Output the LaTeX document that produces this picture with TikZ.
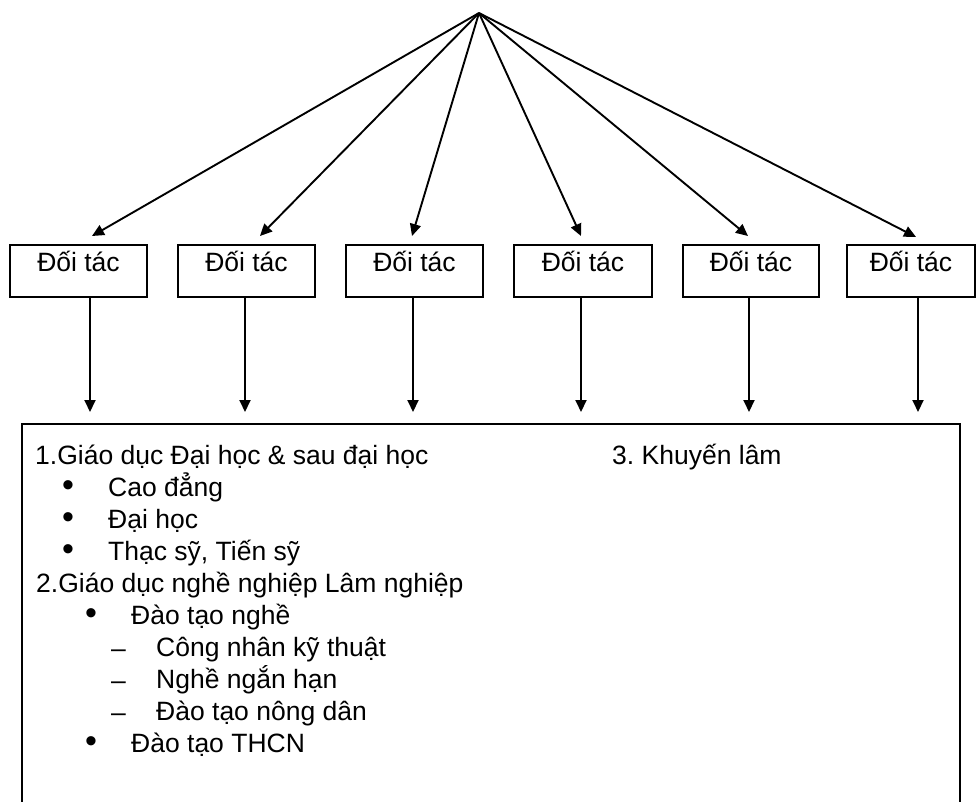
\documentclass[tikz,border=0pt]{standalone}
\usepackage{fontspec}
\setmainfont{Liberation Sans}
\usetikzlibrary{arrows.meta}
\begin{document}
\frenchspacing
\begin{tikzpicture}[x=1pt,y=-1pt,
  every node/.style={font=\fontsize{26.5}{32}\selectfont},
  partner/.style={draw, line width=1.9pt, minimum height=52pt, inner sep=0pt,
    text height=27pt, text depth=25pt, anchor=north},
  arr/.style={line width=1.9pt, -{Triangle[length=12pt,width=11pt]}},
  item/.style={anchor=base west, inner sep=0pt},
  bul/.style={anchor=base, inner sep=0pt, font=\fontsize{34}{34}\selectfont},
  dsh/.style={anchor=base, inner sep=0pt}]
\useasboundingbox (0,0) rectangle (976,801);
\clip (0,0) rectangle (976,801);

% apex
\coordinate (apex) at (479,13);

% partner boxes
\node[partner, minimum width=137pt] (b1) at (78.5,244) {Đối tác};
\node[partner, minimum width=137pt] (b2) at (246.5,244) {Đối tác};
\node[partner, minimum width=137pt] (b3) at (414.5,244) {Đối tác};
\node[partner, minimum width=138pt] (b4) at (583,244) {Đối tác};
\node[partner, minimum width=136pt] (b5) at (751,244) {Đối tác};
\node[partner, minimum width=128pt] (b6) at (911,244) {Đối tác};

% arrow ends above boxes
\coordinate (e1) at (92,236);
\coordinate (e2) at (260,236);
\coordinate (e3) at (412,236);
\coordinate (e4) at (581,236);
\coordinate (e5) at (748,236);
\coordinate (e6) at (916,237);
\foreach \i in {1,...,6} \draw[arr] (apex) -- (e\i);

% main box
\node[draw, line width=1.9pt, anchor=north west, minimum width=938pt,
  minimum height=420pt, inner sep=0pt] (main) at (21,423) {};

% vertical arrows
\coordinate (v1) at (90,412);
\coordinate (v2) at (245,412);
\coordinate (v3) at (413,412);
\coordinate (v4) at (581,412);
\coordinate (v5) at (749,412);
\coordinate (v6) at (918,412);
\foreach \i in {1,...,6} \draw[arr] (b\i.south -| v\i) -- (v\i);

% text in main box
\node[item] (l1) at (35,464) {1.Giáo dục Đại học \& sau đại học};
\node[bul] (m2) at (68,496) {•};
\node[item] (l2) at (108,496) {Cao đẳng};
\node[bul] (m3) at (68,528) {•};
\node[item] (l3) at (108,528) {Đại học};
\node[bul] (m4) at (68,560) {•};
\node[item] (l4) at (108,560) {Thạc sỹ, Tiến sỹ};
\node[item] (l5) at (36,592) {2.Giáo dục nghề nghiệp Lâm nghiệp};
\node[bul] (m6) at (91,624) {•};
\node[item] (l6) at (131,624) {Đào tạo nghề};
\node[dsh] (m7) at (118.5,657) {–};
\node[item] (l7) at (156,656) {Công nhân kỹ thuật};
\node[dsh] (m8) at (118.5,689) {–};
\node[item] (l8) at (156,688) {Nghề ngắn hạn};
\node[dsh] (m9) at (118.5,721) {–};
\node[item] (l9) at (156,720) {Đào tạo nông dân};
\node[bul] (m10) at (91,752) {•};
\node[item] (l10) at (131,752) {Đào tạo THCN};
\node[item] (k3) at (612,464) {3. Khuyến lâm};
\end{tikzpicture}
\end{document}
